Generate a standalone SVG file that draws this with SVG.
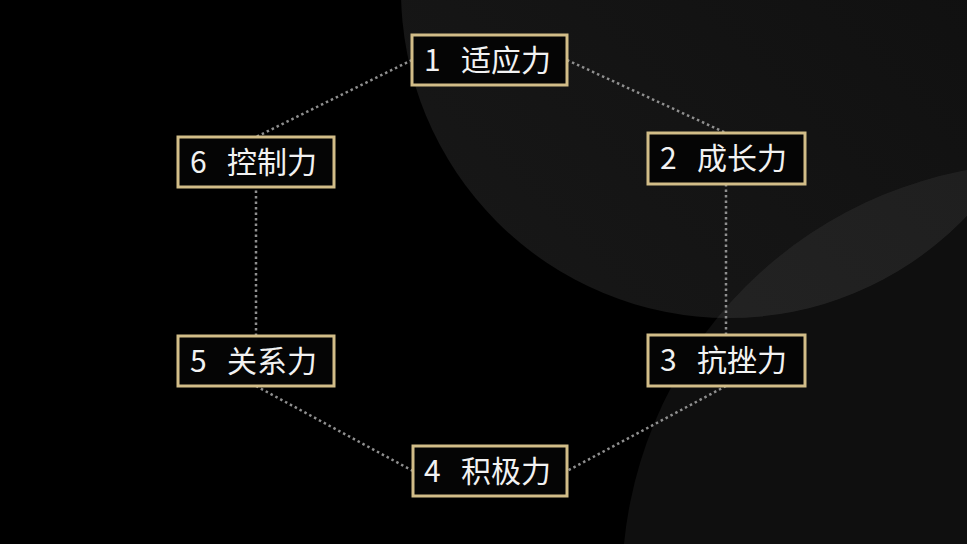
<svg xmlns="http://www.w3.org/2000/svg" width="967" height="544" viewBox="0 0 967 544">
<defs>
<linearGradient id="g1" x1="0" y1="1" x2="1" y2="0">
<stop offset="0" stop-color="#181818"/>
<stop offset="1" stop-color="#0d0d0d"/>
</linearGradient>
<style>
.box{fill:#050505;stroke:#d2bd88;stroke-width:3}
.lbl{font-family:"Noto Sans CJK SC","Noto Sans",sans-serif;font-size:30px;fill:#f2f2f2;white-space:pre}
.con{stroke:#8f8f8f;stroke-width:2.5;stroke-dasharray:2.5 3;fill:none}
</style>
</defs>
<rect width="967" height="544" fill="#000"/>
<circle cx="729" cy="-10" r="328" fill="url(#g1)"/>
<circle cx="1044" cy="585" r="422" fill="#ffffff" fill-opacity="0.06"/>
<g id="connectors">
<line class="con" x1="412" y1="60" x2="256" y2="137"/>
<line class="con" x1="567" y1="60" x2="726" y2="133"/>
<line class="con" x1="726" y1="184" x2="726" y2="335"/>
<line class="con" x1="726" y1="386" x2="567" y2="471"/>
<line class="con" x1="413" y1="471" x2="256" y2="386"/>
<line class="con" x1="256" y1="336" x2="256" y2="187"/>
</g>
<g id="n1"><rect class="box" x="412" y="35" width="155" height="50"/><text class="lbl" x="424" y="71" xml:space="preserve">1  <tspan dx="7">适应力</tspan></text></g>
<g id="n2"><rect class="box" x="648" y="133" width="157" height="51"/><text class="lbl" x="660" y="169" xml:space="preserve">2  <tspan dx="7">成长力</tspan></text></g>
<g id="n3"><rect class="box" x="648" y="335" width="157" height="51"/><text class="lbl" x="660" y="371" xml:space="preserve">3  <tspan dx="7">抗挫力</tspan></text></g>
<g id="n4"><rect class="box" x="413" y="446" width="154" height="50"/><text class="lbl" x="424" y="482" xml:space="preserve">4  <tspan dx="7">积极力</tspan></text></g>
<g id="n5"><rect class="box" x="178" y="336" width="156" height="50"/><text class="lbl" x="190" y="372" xml:space="preserve">5  <tspan dx="7">关系力</tspan></text></g>
<g id="n6"><rect class="box" x="178" y="137" width="156" height="50"/><text class="lbl" x="190" y="173" xml:space="preserve">6  <tspan dx="7">控制力</tspan></text></g>
</svg>
